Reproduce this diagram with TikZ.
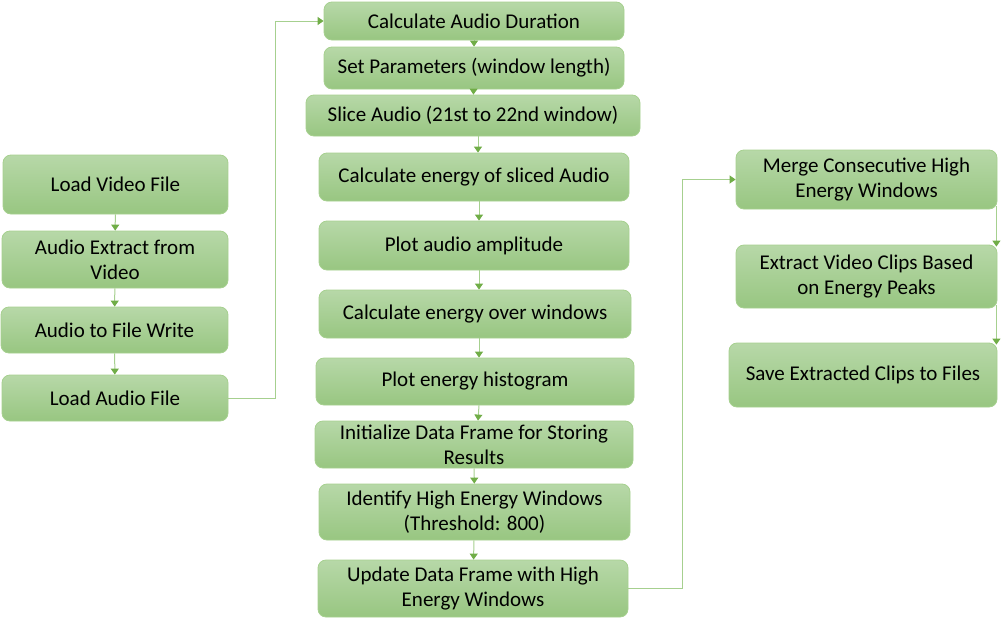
\documentclass[tikz,border=0pt]{standalone}
\usepackage{fontspec}
\setmainfont{Carlito}
\usetikzlibrary{arrows.meta}
\definecolor{gtop}{HTML}{B7D8A8}
\definecolor{gbot}{HTML}{98C681}
\definecolor{gline}{HTML}{A6D08F}
\definecolor{garrow}{HTML}{70AD47}
\begin{document}
\begin{tikzpicture}[x=1pt,y=-1pt,
  box/.style={draw=gline, line width=0.8pt, rounded corners=8pt, top color=gtop, bottom color=gbot,
    align=center, font=\fontsize{21}{25}\selectfont, inner sep=0pt, text=black},
  conn/.style={draw=gline, line width=1pt, -{Triangle[length=6pt,width=8pt,fill=garrow,color=garrow]}}]
\useasboundingbox (0,0) rectangle (1004,627);
% left column
\node[box, minimum width=225pt, minimum height=59pt] (lv) at (115.5,184.5) {Load Video File};
\node[box, minimum width=226pt, minimum height=57pt] (ae) at (115,259.5) {Audio Extract from\\Video};
\node[box, minimum width=227pt, minimum height=46pt] (aw) at (114.5,330) {Audio to File Write};
\node[box, minimum width=226pt, minimum height=46pt] (la) at (115,398) {Load Audio File};
% middle column
\node[box, minimum width=300pt, minimum height=38pt] (cd) at (474,21) {Calculate Audio Duration};
\node[box, minimum width=300pt, minimum height=42pt] (sp) at (474,68) {Set Parameters (window length)};
\node[box, minimum width=334pt, minimum height=41pt] (sa) at (473,115.5) {Slice Audio (21st to 22nd window)};
\node[box, minimum width=310pt, minimum height=48pt] (ce) at (474,177) {Calculate energy of sliced Audio};
\node[box, minimum width=310pt, minimum height=49pt] (pa) at (474,245.5) {Plot audio amplitude};
\node[box, minimum width=312pt, minimum height=48pt] (cw) at (475,314) {Calculate energy over windows};
\node[box, minimum width=318pt, minimum height=47pt] (ph) at (475,381.5) {Plot energy histogram};
\node[box, minimum width=318pt, minimum height=47pt] (id) at (474,444.5) {Initialize Data Frame for Storing\\Results};
\node[box, minimum width=311pt, minimum height=56pt] (ih) at (474.5,512) {Identify High Energy Windows\\(Threshold: 800)};
\node[box, minimum width=310pt, minimum height=57pt] (ud) at (473,588.5) {Update Data Frame with High\\Energy Windows};
% right column
\node[box, minimum width=261pt, minimum height=59pt] (mg) at (866.5,179.5) {Merge Consecutive High\\Energy Windows};
\node[box, minimum width=261pt, minimum height=63pt] (ev) at (866.5,276.5) {Extract Video Clips Based\\on Energy Peaks};
\node[box, minimum width=268pt, minimum height=64pt] (sv) at (863,375) {Save Extracted Clips to Files};
% connectors
\draw[conn] (lv) -- (ae);
\draw[conn] (ae) -- (aw);
\draw[conn] (aw) -- (la);
\draw[conn] (la.east) -- ++(47,0) |- (cd.west);
\draw[conn] (cd) -- (sp);
\draw[conn] (sp) -- (sa);
\draw[conn] ([xshift=5pt]sa.south) -- ([xshift=4pt]ce.north);
\draw[conn] ([xshift=5pt]ce.south) -- ([xshift=5pt]pa.north);
\draw[conn] ([xshift=5pt]pa.south) -- ([xshift=4pt]cw.north);
\draw[conn] ([xshift=4pt]cw.south) -- ([xshift=4pt]ph.north);
\draw[conn] ([xshift=4pt]ph.south) -- ([xshift=4pt]id.north);
\draw[conn] (id) -- (ih);
\draw[conn] (ih) -- (ud);
\draw[conn] (ud.east) -- ++(54,0) |- (mg.west);
\draw[conn] ([xshift=-1pt,yshift=3pt]mg.south east) -- ([xshift=-1pt,yshift=-2pt]ev.north east);
\draw[conn] ([xshift=-1pt,yshift=3pt]ev.south east) -- ([xshift=-1pt,yshift=-2pt]sv.north east);
\end{tikzpicture}
\end{document}
